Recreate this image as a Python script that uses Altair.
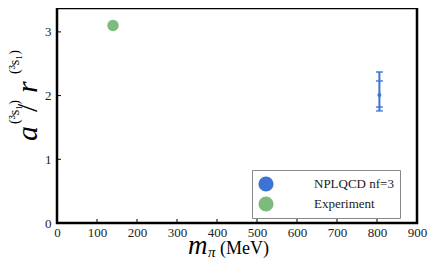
import altair as alt
import pandas as pd

# data
series = ["NPLQCD nf=3", "Experiment"]
mpi = [806, 140]
ratio = [2.01, 3.10]
colors = ["#3b74d4", "#7dbb7d"]
# NPLQCD error bars: inner (statistical) and outer (total)
stat_lo, stat_hi = 1.82, 2.23
tot_lo, tot_hi = 1.76, 2.37
x_labels = [0, 100, 200, 300, 400, 500, 600, 700, 800, 900]
y_labels = [0, 1, 2, 3]
x_ticks = [100, 200, 300, 400, 500, 600, 700, 800]
y_ticks = [1, 2, 3]

W, H = 360, 215
XMAX, YMAX = 900, 3.375
FONT = "Liberation Serif"

pts = pd.DataFrame({"series": series, "mpi": mpi, "ratio": ratio})
err = pd.DataFrame({"mpi": [mpi[0]], "lo": [tot_lo], "hi": [tot_hi]})
caps = pd.DataFrame({"mpi": [mpi[0]] * 4, "y": [tot_lo, stat_lo, stat_hi, tot_hi]})

xs = alt.Scale(domain=[0, XMAX], nice=False, zero=False)
ys = alt.Scale(domain=[0, YMAX], nice=False)

xaxis = alt.Axis(values=x_labels, format="d", title="", grid=False, ticks=False,
                 labelFontSize=13, labelFont=FONT, labelColor="#222", labelPadding=3,
                 labelOverlap=False, labelFlush=False, domain=False)
yaxis = alt.Axis(values=y_labels, format="d", title="", grid=False, ticks=False,
                 labelFontSize=13, labelFont=FONT, labelColor="#222", labelPadding=6,
                 labelOverlap=False, labelFlush=False, domain=False)

legend = alt.Legend(title=None, orient="none", legendX=195, legendY=162,
                    symbolSize=230, symbolType="circle", labelFont=FONT,
                    labelFontSize=13, labelColor="#222", labelOffset=40,
                    rowPadding=4, padding=6, strokeColor="#888",
                    fillColor="white", symbolStrokeWidth=0,
                    symbolOpacity=1, labelLimit=200)
color = alt.Color("series:N", scale=alt.Scale(domain=series, range=colors), legend=legend)

X = lambda f: alt.X(f, scale=xs, axis=xaxis)
Y = lambda f: alt.Y(f, scale=ys, axis=yaxis)

exp_layer = alt.Chart(pts[pts.series == "Experiment"]).mark_circle(size=130, opacity=1).encode(
    x=X("mpi:Q"), y=Y("ratio:Q"), color=color)
npl_layer = alt.Chart(pts[pts.series == "NPLQCD nf=3"]).mark_circle(size=16, opacity=1).encode(
    x=X("mpi:Q"), y=Y("ratio:Q"), color=color)
bar = alt.Chart(err).mark_rule(color=colors[0], strokeWidth=2).encode(
    x=X("mpi:Q"), y=Y("lo:Q"), y2="hi:Q")
cap = alt.Chart(caps).mark_tick(color=colors[0], orient="horizontal", size=7, thickness=2).encode(
    x=X("mpi:Q"), y=Y("y:Q"))

xt = alt.Chart(pd.DataFrame({"v": x_ticks})).mark_rule(color="black", strokeWidth=1).encode(
    x=X("v:Q"), y=alt.value(H), y2=alt.value(H - 4))
yt = alt.Chart(pd.DataFrame({"v": y_ticks})).mark_rule(color="black", strokeWidth=1).encode(
    y=Y("v:Q"), x=alt.value(0), x2=alt.value(4))

def txt(s, x, y, size, italic=True, angle=0):
    kw = dict(text=s, font=FONT, fontSize=size, align="left", baseline="alphabetic",
              color="black")
    if italic:
        kw["fontStyle"] = "italic"
    if angle:
        kw["angle"] = angle
    return alt.Chart(pd.DataFrame({"k": [0]})).mark_text(**kw).encode(
        x=alt.value(x), y=alt.value(y))

# x title: m_pi (MeV)
xtitle = [txt("m", 131, 246, 27), txt("π", 151, 249, 15), txt("(MeV)", 163, 246, 18, italic=False)]
# y title: a^(3S1) / r^(3S1), rotated
ytitle = [txt("a", -20, 133, 30, angle=270),
          txt("(³s₁)", -38, 116, 14, italic=False, angle=270),
          txt("/", -20, 104, 30, italic=False, angle=270),
          txt("r", -20, 85, 30, angle=270),
          txt("(³s₁)", -38, 66, 14, italic=False, angle=270)]

chart = alt.layer(exp_layer, npl_layer, bar, cap, xt, yt, *xtitle, *ytitle).properties(
    width=W, height=H,
    autosize=alt.AutoSizeParams(type="none"),
    padding={"left": 49, "top": 0, "right": 18, "bottom": 46},
).configure_view(stroke="black", strokeWidth=2.5).configure_axis(
    labelFont=FONT).configure_legend(labelFont=FONT)

chart.save("out.html", embed_options={"renderer": "svg", "actions": False})
